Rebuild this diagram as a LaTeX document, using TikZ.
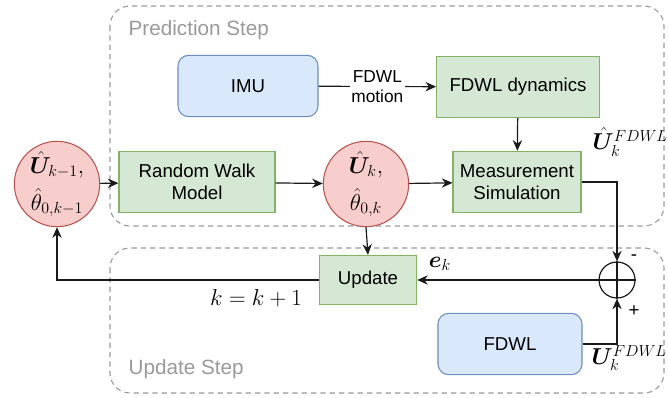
\documentclass[tikz,border=0pt]{standalone}
\usepackage{fontspec}
\setmainfont{Liberation Sans}
\usepackage{amsmath}
\usepackage{bm}
\usetikzlibrary{arrows.meta}
\definecolor{bluefill}{HTML}{DAE8FC}
\definecolor{bluedraw}{HTML}{6C8EBF}
\definecolor{greenfill}{HTML}{D5E8D4}
\definecolor{greendraw}{HTML}{82B366}
\definecolor{redfill}{HTML}{F8CECC}
\definecolor{reddraw}{HTML}{B85450}
\definecolor{groupgray}{HTML}{9A9A9A}
\definecolor{wire}{HTML}{1A1A1A}
\begin{document}
\begin{tikzpicture}[x=0.75pt,y=-0.75pt,
  font=\fontsize{14}{16.5}\selectfont,
  group/.style={draw=groupgray,dashed,dash pattern=on 4pt off 3pt,rounded corners=15pt,line width=0.8pt},
  grouplabel/.style={text=groupgray,font=\fontsize{15.5}{18}\selectfont,anchor=west},
  inbox/.style={draw=bluedraw,fill=bluefill,rounded corners=8pt,line width=0.8pt,minimum width=105pt,minimum height=46pt,align=center},
  procbox/.style={draw=greendraw,fill=greenfill,line width=0.8pt,minimum height=46pt,align=center},
  state/.style={circle,draw=reddraw,fill=redfill,line width=0.8pt,minimum size=64pt,inner sep=0pt,align=center,font=\fontsize{17}{22}\selectfont},
  mathlabel/.style={font=\fontsize{18}{20}\selectfont},
  arr/.style={draw=wire,line width=0.9pt,-{Stealth[length=8pt,width=7pt]}},
  ln/.style={draw=wire,line width=0.9pt}]
\useasboundingbox (0,0) rectangle (668,397);

% dashed step groups
\draw[group] (110,6) rectangle (664,226);
\draw[group] (110,248) rectangle (664,393);
\node[grouplabel] (predlabel) at (124,30) {Prediction Step};
\node[grouplabel] (updlabel) at (124,369) {Update Step};

% blocks
\node[inbox] (imu) at (248,86) {IMU};
\node[procbox,minimum width=122pt] (dyn) at (518,87) {FDWL dynamics};
\node[procbox,minimum width=96pt] (meas) at (517,182) {Measurement\\Simulation};
\node[procbox,minimum width=117pt] (rw) at (197,182) {Random Walk\\Model};
\node[procbox,minimum width=73pt,minimum height=37pt] (upd) at (368,280) {Update};
\node[inbox,minimum width=108pt] (fdwl) at (510,344) {FDWL};

% state estimates
\node[state] (prev) at (57,184) {$\hat{\bm{U}}_{k-1},$\\[6pt]$\hat{\theta}_{0,k-1}$};
\node[state] (cur) at (366,184) {$\hat{\bm{U}}_{k},$\\[6pt]$\hat{\theta}_{0,k}$};

% summing junction
\node[circle,draw=wire,line width=0.9pt,minimum size=27pt,inner sep=0pt] (sum) at (617,280) {};
\draw[ln] (sum.north) -- (sum.south);
\draw[ln] (sum.west) -- (sum.east);

% connectors
\draw[arr] (prev) -- (rw);
\draw[arr] (rw) -- (cur);
\draw[arr] (cur) -- (meas);
\draw[arr] (imu) -- node[fill=white,inner sep=1pt,align=center,font=\fontsize{13}{15}\selectfont] (motion) {FDWL\\motion} (dyn);
\draw[arr] (dyn) -- (meas);
\draw[arr] (meas.east) -| (sum.north);
\draw[arr] (fdwl.east) -| (sum.south);
\draw[arr] (sum.west) -- (upd.east);
\draw[arr] (cur.south) -- (upd.north);
\draw[arr] (upd.west) -| (prev.south);

% signal labels
\node[mathlabel,anchor=west] (uhat) at (588,142) {$\hat{\bm{U}}_{k}^{FDWL}$};
\node[mathlabel,anchor=west] (umeas) at (587,358) {$\bm{U}_{k}^{FDWL}$};
\node[mathlabel] (ek) at (440,264) {$\bm{e}_k$};
\node[mathlabel] (kinc) at (256,298) {$k=k+1$};
\node (minus) at (634,258) {-};
\node (plus) at (634,311) {+};
\end{tikzpicture}
\end{document}
